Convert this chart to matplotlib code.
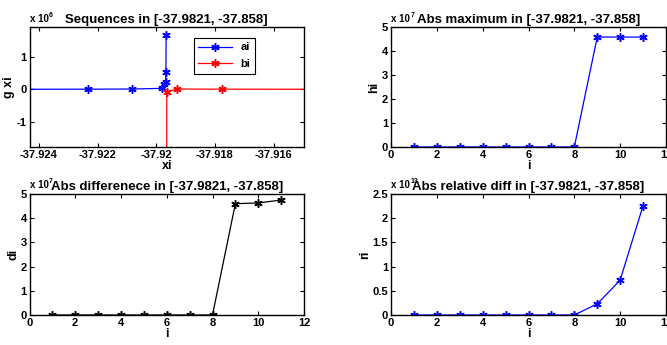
import matplotlib
matplotlib.use("Agg")
import matplotlib.pyplot as plt
from matplotlib.ticker import FuncFormatter

plt.rcParams['font.family'] = ['Liberation Sans', 'DejaVu Sans']
plt.rcParams['font.weight'] = 'bold'

# sequence ai approaches the pole from the left, bi from the right
ai_x = [-37.9270, -37.92234, -37.92083, -37.91980, -37.91972, -37.91968, -37.91967, -37.91966]
ai_y = [0.0, 0.005e6, 0.01e6, 0.03e6, 0.16e6, 0.23e6, 0.54e6, 1.68e6]
bi_x = [-37.9100, -37.91777, -37.91928, -37.91964, -37.91964]
bi_y = [0.0, 0.005e6, 0.01e6, -0.07e6, -5.0e6]

idx = [1, 2, 3, 4, 5, 6, 7, 8, 9, 10, 11]
hi = [1e4, 1e4, 1e4, 1e4, 1e4, 1e4, 1e4, 2e4, 4.6e7, 4.6e7, 4.6e7]
di = [1e4, 1e4, 1e4, 1e4, 1e4, 1e4, 1e4, 2e4, 4.60e7, 4.63e7, 4.75e7]
ri = [1e9, 1e9, 1e9, 1e9, 1e9, 1e9, 1e9, 2e9, 0.23e13, 0.72e13, 2.26e13]

TITLE = "[-37.9821, -37.858]"
W, H = 667, 345
STAR = (6, 2, 0)  # asterisk-like marker, as MATLAB '*'
MK = dict(marker=STAR, ms=6, mew=1.1, lw=0.9)


def frac(x0, y0, x1, y1):
    return [x0 / W, 1 - y1 / H, (x1 - x0) / W, (y1 - y0) / H]


def style(ax, scale, exp):
    ax.tick_params(direction="in", top=True, right=True, length=3, width=0.8,
                   labelsize=8, pad=2)
    for s in ax.spines.values():
        s.set_linewidth(1.0)
    ax.yaxis.set_major_formatter(FuncFormatter(lambda v, p: f"{v / scale:g}"))
    ax.text(0.0, 1.03, "x 10", transform=ax.transAxes, fontsize=7,
            fontweight="bold", ha="left", va="bottom")
    ax.text(0.07, 1.075, exp, transform=ax.transAxes, fontsize=5,
            fontweight="bold", ha="left", va="bottom")


def labels(ax, title, xl, yl):
    ax.set_title(title, fontsize=9.5, fontweight="bold", pad=3)
    ax.set_xlabel(xl, fontsize=9, fontweight="bold", labelpad=0)
    ax.set_ylabel(yl, fontsize=9, fontweight="bold", labelpad=1)


fig = plt.figure(figsize=(6.67, 3.45), dpi=100)

# top-left: the two sequences
ax1 = fig.add_axes(frac(29.5, 27.5, 304, 147))
ax1.plot(ai_x, ai_y, color="blue", label="ai", **MK)
ax1.plot(bi_x, bi_y, color="red", label="bi", **MK)
ax1.set_xlim(-37.92432, -37.91496)
ax1.set_ylim(-1.79e6, 1.92e6)
ax1.set_xticks([-37.924, -37.922, -37.920, -37.918, -37.916])
ax1.set_xticklabels(["-37.924", "-37.922", "-37.92", "-37.918", "-37.916"])
ax1.set_yticks([-1e6, 0, 1e6])
style(ax1, 1e6, "6")
labels(ax1, "Sequences in " + TITLE, "xi", "g xi")
leg = ax1.legend(loc="upper left", bbox_to_anchor=(0.599, 0.912), fontsize=8,
                 handlelength=3.0, fancybox=False, edgecolor="black",
                 borderaxespad=0, framealpha=1, labelspacing=0.6)
leg.get_frame().set_linewidth(0.8)

# top-right: abs maximum
ax2 = fig.add_axes(frac(391, 27.5, 666, 147))
ax2.plot(idx, hi, color="blue", **MK)
ax2.set_xlim(0, 12)
ax2.set_ylim(0, 5e7)
ax2.set_xticks(range(0, 13, 2))
ax2.set_yticks([i * 1e7 for i in range(6)])
style(ax2, 1e7, "7")
labels(ax2, "Abs maximum in " + TITLE, "i", "hi")

# bottom-left: abs difference
ax3 = fig.add_axes(frac(29.5, 194, 304, 315))
ax3.plot(idx, di, color="black", **MK)
ax3.set_xlim(0, 12)
ax3.set_ylim(0, 5e7)
ax3.set_xticks(range(0, 13, 2))
ax3.set_yticks([i * 1e7 for i in range(6)])
style(ax3, 1e7, "7")
labels(ax3, "Abs differenece in " + TITLE, "i", "di")

# bottom-right: abs relative difference
ax4 = fig.add_axes(frac(391, 194, 666, 315))
ax4.plot(idx, ri, color="blue", **MK)
ax4.set_xlim(0, 12)
ax4.set_ylim(0, 2.5e13)
ax4.set_xticks(range(0, 13, 2))
ax4.set_yticks([i * 0.5e13 for i in range(6)])
style(ax4, 1e13, "13")
labels(ax4, "Abs relative diff in " + TITLE, "i", "ri")

fig.savefig("out.png", dpi=100)
